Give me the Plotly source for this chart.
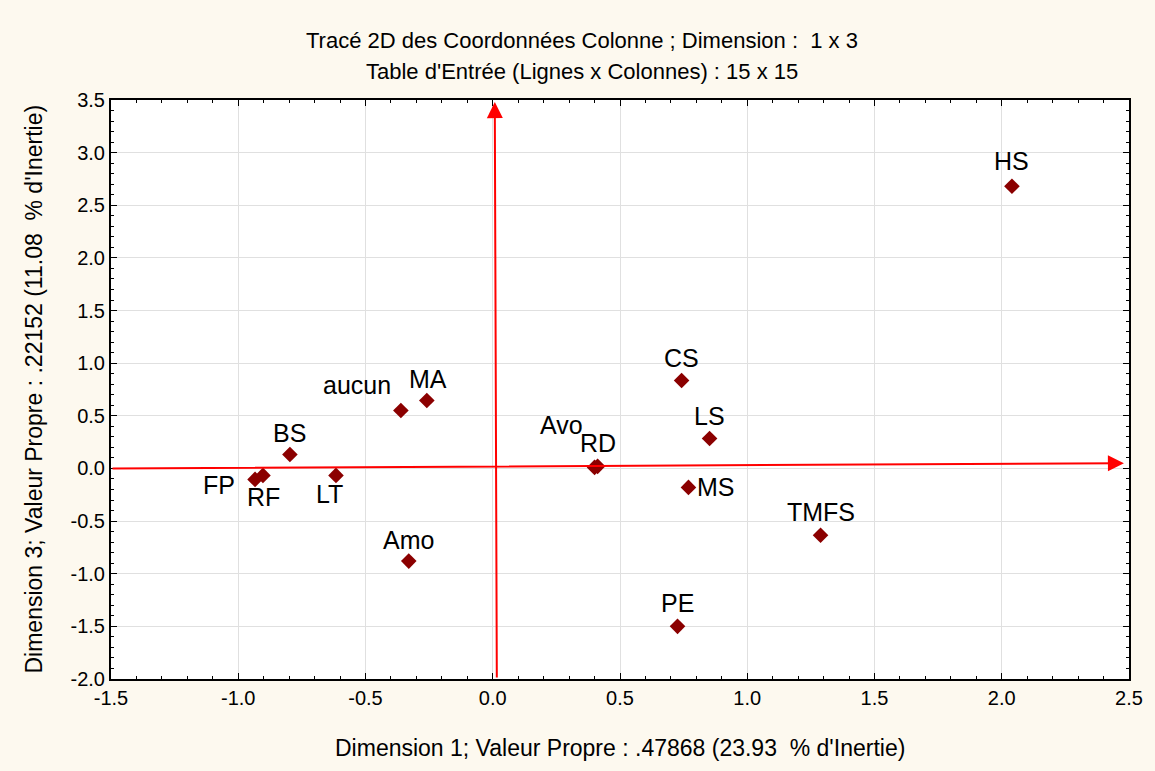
import plotly.graph_objects as go

labels = ["HS", "CS", "LS", "MS", "TMFS", "PE", "RD", "Avo", "MA", "aucun", "BS", "LT", "FP", "RF", "Amo"]
dim1 = [2.04, 0.742, 0.852, 0.769, 1.288, 0.726, 0.412, 0.400, -0.259, -0.361, -0.797, -0.616, -0.934, -0.903, -0.330]
dim3 = [2.68, 0.835, 0.285, -0.180, -0.635, -1.50, 0.020, 0.010, 0.645, 0.550, 0.133, -0.066, -0.104, -0.066, -0.880]

x_ticks = [-1.5, -1.0, -0.5, 0.0, 0.5, 1.0, 1.5, 2.0, 2.5]
y_ticks = [-2.0, -1.5, -1.0, -0.5, 0.0, 0.5, 1.0, 1.5, 2.0, 2.5, 3.0, 3.5]

title_line1 = "Tracé 2D des Coordonnées Colonne ; Dimension :  1 x 3"
title_line2 = "Table d'Entrée (Lignes x Colonnes) : 15 x 15"
x_title = "Dimension 1; Valeur Propre : .47868 (23.93  % d'Inertie)"
y_title = "Dimension 3; Valeur Propre : .22152 (11.08  % d'Inertie)"

# label pixel offsets (style)
label_offsets = {
    "HS": (0, 25), "CS": (0, 23), "LS": (0, 22), "MS": (28, 0), "TMFS": (0, 23),
    "PE": (0, 23), "RD": (0, 23), "Avo": (-33, 42), "MA": (1, 22), "aucun": (-44, 26),
    "BS": (0, 21), "LT": (-6, -19), "FP": (-36, -6), "RF": (1, -22), "Amo": (0, 21),
}

font_family = "Liberation Sans, Arial, sans-serif"
bg = "#fdf9ef"

fig = go.Figure()
fig.add_trace(go.Scatter(
    x=dim1, y=dim3, mode="markers",
    marker=dict(symbol="diamond", size=12, color="#8b0000"),
    hoverinfo="text", text=labels, showlegend=False,
))

annotations = []
for lab, xv, yv in zip(labels, dim1, dim3):
    dx, dy = label_offsets[lab]
    annotations.append(dict(
        x=xv, y=yv, xref="x", yref="y", text=lab, showarrow=False,
        xshift=dx, yshift=dy, font=dict(family=font_family, size=25, color="black"),
    ))

# axis arrows
annotations.append(dict(
    x=2.48, y=0.05, ax=-1.5, ay=0.0, xref="x", yref="y", axref="x", ayref="y",
    showarrow=True, arrowhead=2, arrowsize=1.6, arrowwidth=2, arrowcolor="#ff0000", text="",
))
annotations.append(dict(
    x=0.008, y=3.48, ax=0.016, ay=-2.0, xref="x", yref="y", axref="x", ayref="y",
    showarrow=True, arrowhead=2, arrowsize=1.6, arrowwidth=2, arrowcolor="#ff0000", text="",
))

# titles
annotations += [
    dict(x=0.463, y=1.1036, xref="paper", yref="paper", text=title_line1, showarrow=False,
         xanchor="center", yanchor="middle", font=dict(family=font_family, size=22, color="black")),
    dict(x=0.463, y=1.0484, xref="paper", yref="paper", text=title_line2, showarrow=False,
         xanchor="center", yanchor="middle", font=dict(family=font_family, size=22, color="black")),
    dict(x=0.5, y=-0.119, xref="paper", yref="paper", text=x_title, showarrow=False,
         xanchor="center", yanchor="middle", font=dict(family=font_family, size=23, color="black")),
    dict(x=-0.0766, y=0.5, xref="paper", yref="paper", text=y_title, showarrow=False,
         textangle=-90, xanchor="center", yanchor="middle",
         font=dict(family=font_family, size=23, color="black")),
]

fig.update_layout(
    width=1155, height=771,
    paper_bgcolor=bg, plot_bgcolor="white",
    margin=dict(l=103, r=34, t=92, b=100),
    annotations=annotations,
    xaxis=dict(
        range=[-1.5, 2.5], tickvals=x_ticks, ticktext=[f"{v:.1f}" for v in x_ticks],
        showgrid=True, gridcolor="#e0e0e0", gridwidth=1, zeroline=False,
        showline=True, linecolor="black", linewidth=2, mirror="ticks",
        ticks="inside", ticklen=6, tickcolor="black", automargin=False,
        minor=dict(dtick=0.1, ticks="inside", ticklen=3, tickcolor="black", showgrid=False),
        tickfont=dict(family=font_family, size=20, color="black"),
    ),
    yaxis=dict(
        range=[-2.0, 3.5], tickvals=y_ticks, ticktext=[f"{v:.1f}" for v in y_ticks],
        showgrid=True, gridcolor="#e0e0e0", gridwidth=1, zeroline=False,
        showline=True, linecolor="black", linewidth=2, mirror="ticks",
        ticks="inside", ticklen=6, tickcolor="black", automargin=False,
        minor=dict(dtick=0.1, ticks="inside", ticklen=3, tickcolor="black", showgrid=False),
        tickfont=dict(family=font_family, size=20, color="black"),
    ),
)

fig.write_html("out.html", post_script=f"document.body.style.background = '{bg}';")
